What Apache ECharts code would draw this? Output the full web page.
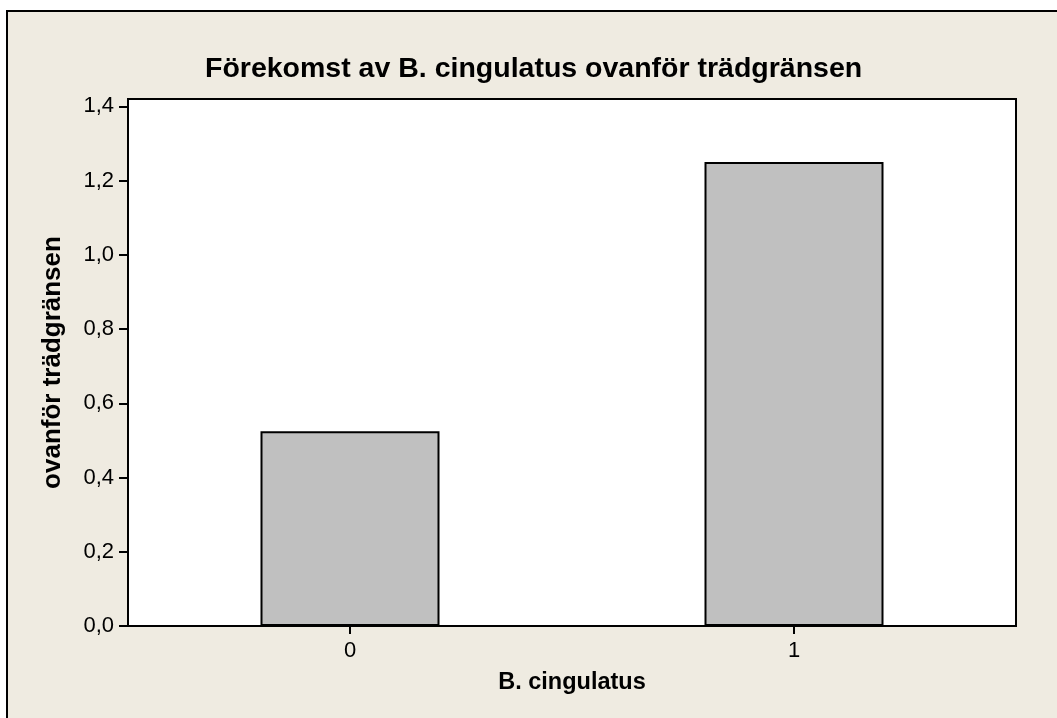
<!DOCTYPE html>
<html>
<head>
<meta charset="utf-8">
<script src="https://cdn.jsdelivr.net/npm/echarts@6.0.0/dist/echarts.min.js"></script>
<style>
  html, body { margin: 0; padding: 0; background: #fff; }
  #main { width: 1057px; height: 718px; }
</style>
</head>
<body>
<div id="main"></div>
<script>
const categories = ['0', '1']
const values = [0.525, 1.25]
const yTicks = [0, 0.2, 0.4, 0.6, 0.8, 1.0, 1.2, 1.4]

const chart = echarts.init(document.getElementById('main'), null, { renderer: 'canvas' })

const fmt = v => v.toFixed(1).replace('.', ',')

const option = {
  animation: false,
  textStyle: { fontFamily: 'Liberation Sans' },
  graphic: [{
    type: 'rect',
    z: -100,
    silent: true,
    shape: { x: 7, y: 11, width: 1200, height: 900 },
    style: { fill: '#EFEBE1', stroke: '#000', lineWidth: 2 }
  }],
  title: {
    text: 'Förekomst av B. cingulatus ovanför trädgränsen',
    left: 205,
    top: 55,
    padding: 0,
    textStyle: { fontFamily: 'Liberation Sans', fontWeight: 'bold', fontSize: 28.5, color: '#000' }
  },
  grid: {
    left: 128, top: 99, right: 41, bottom: 92,
    show: true,
    backgroundColor: '#fff',
    borderColor: '#000',
    borderWidth: 2
  },
  xAxis: {
    type: 'category',
    data: categories,
    name: 'B. cingulatus',
    nameLocation: 'middle',
    nameGap: 45,
    nameTextStyle: { fontFamily: 'Liberation Sans', fontWeight: 'bold', fontSize: 23.5, color: '#000' },
    axisLine: { show: false },
    axisTick: { show: true, alignWithLabel: true, length: 8, lineStyle: { color: '#000', width: 2 } },
    axisLabel: { fontSize: 22, color: '#000', margin: 14 },
    splitLine: { show: false }
  },
  yAxis: {
    type: 'value',
    min: 0,
    max: 1.42,
    name: 'ovanför trädgränsen',
    nameLocation: 'middle',
    nameRotate: 90,
    nameGap: 62,
    nameTextStyle: { fontFamily: 'Liberation Sans', fontWeight: 'bold', fontSize: 26, color: '#000' },
    axisLine: { show: false },
    axisTick: { show: true, length: 9, customValues: yTicks, lineStyle: { color: '#000', width: 2 } },
    axisLabel: { fontSize: 22, color: '#000', margin: 14, customValues: yTicks, formatter: fmt },
    splitLine: { show: false }
  },
  series: [{
    type: 'bar',
    data: values,
    barWidth: 179,
    itemStyle: { color: '#C0C0C0', borderColor: '#000', borderWidth: 2 }
  }]
}

chart.setOption(option)
</script>
</body>
</html>
